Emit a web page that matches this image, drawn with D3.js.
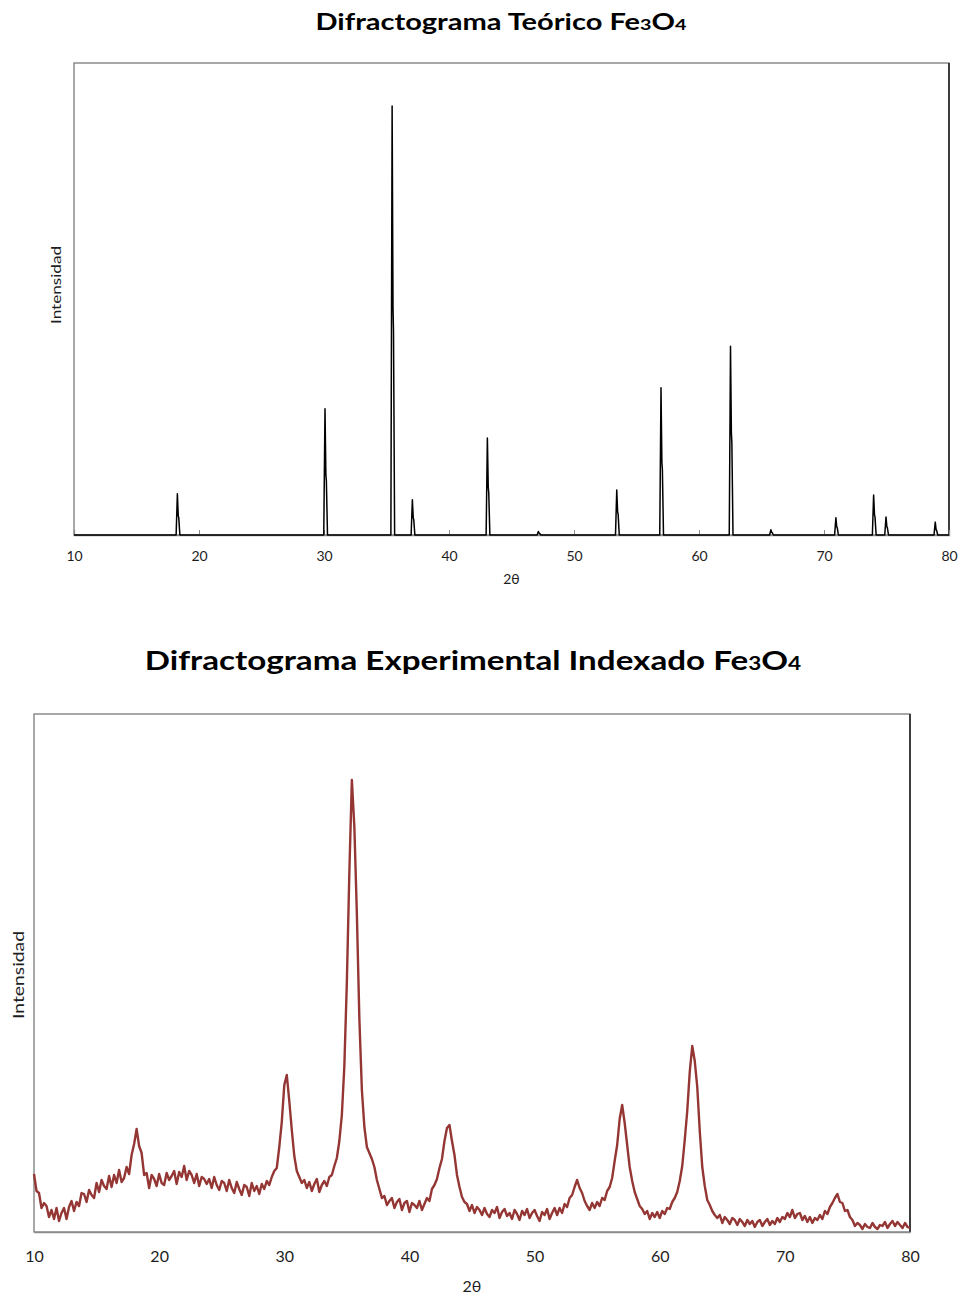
<!DOCTYPE html>
<html>
<head>
<meta charset="utf-8">
<script src="https://cdn.jsdelivr.net/npm/d3@7"></script>
<style>
    body { margin: 0; background: #fff; }
    text { font-family: Lato, "Open Sans", sans-serif; }
</style>
</head>
<body>
<svg id="page" width="961" height="1297"></svg>
<script>

/*  x axis ticks (2 theta)  */
const twoThetaTicks = [10, 20, 30, 40, 50, 60, 70, 80];

/*  theoretical pattern: position, main (Ka1) intensity, shoulder (Ka2) intensity  */
const theoPeakPos      = [18.27, 30.08, 35.45, 37.07, 43.07, 47.15, 53.42, 56.96, 62.52, 65.75, 70.95, 73.97, 74.96, 78.90];
const theoPeakInt      = [9.6,   29.4,  100,   8.2,   22.6,  0.8,   10.5,  34.3,  44.0,  1.2,   4.0,   9.3,   4.2,   3.0];
const theoShoulderInt  = [4.5,   14.0,  53.0,  4.0,   11.0,  0.4,   5.4,   17.0,  23.8,  0.6,   1.9,   4.7,   1.9,   1.2];

/*  experimental pattern, read every 0.2 deg from 10 to 80  */
const expStart = 10;
const expStep = 0.2;
const expIntensity = [
    58, 41, 39, 24, 29, 26, 15, 22, 13, 24,
    11, 19, 24, 13, 25, 31, 21, 30, 26, 39,
    38, 30, 42, 37, 34, 49, 40, 52, 46, 43,
    56, 45, 57, 49, 62, 50, 54, 65, 58, 77,
    88, 103, 86, 79, 57, 59, 44, 57, 53, 46,
    58, 49, 47, 59, 52, 56, 61, 48, 60, 55,
    66, 52, 61, 57, 49, 58, 46, 55, 53, 48,
    53, 44, 55, 47, 42, 51, 49, 41, 52, 44,
    39, 50, 43, 37, 47, 45, 36, 49, 41, 46,
    38, 48, 43, 51, 47, 55, 61, 64, 85, 110,
    147, 157, 131, 102, 76, 61, 55, 49, 52, 44,
    50, 41, 48, 53, 40, 47, 51, 46, 55, 57,
    66, 74, 91, 117, 166, 250, 360, 452, 405, 318,
    213, 142, 105, 85, 79, 73, 65, 52, 43, 34,
    36, 27, 31, 34, 24, 30, 33, 22, 29, 31,
    20, 29, 27, 24, 31, 22, 28, 34, 31, 43,
    47, 53, 64, 73, 91, 104, 107, 91, 77, 57,
    45, 35, 30, 28, 21, 27, 19, 25, 22, 17,
    24, 18, 15, 22, 19, 25, 14, 20, 23, 16,
    19, 13, 22, 18, 12, 21, 17, 23, 14, 19,
    22, 16, 11, 20, 17, 23, 13, 19, 24, 17,
    24, 19, 28, 25, 34, 37, 45, 52, 44, 39,
    31, 26, 22, 29, 24, 30, 26, 34, 32, 41,
    45, 54, 71, 87, 113, 127, 109, 87, 65, 51,
    40, 33, 26, 23, 18, 21, 13, 19, 15, 20,
    14, 21, 18, 24, 23, 30, 34, 40, 51, 66,
    92, 121, 160, 186, 171, 145, 101, 65, 46, 32,
    27, 21, 17, 14, 17, 9, 15, 12, 8, 14,
    12, 7, 13, 10, 6, 12, 8, 11, 5, 10,
    12, 6, 10, 13, 7, 11, 8, 14, 10, 15,
    13, 19, 15, 22, 14, 18, 19, 12, 16, 10,
    15, 9, 14, 12, 17, 13, 21, 18, 25, 29,
    34, 38, 30, 29, 21, 22, 15, 12, 6, 9,
    7, 3, 8, 5, 4, 9, 5, 3, 7, 6,
    10, 4, 8, 11, 6, 10, 7, 4, 9, 5,
    4
];

function XrdChart() {

    let self = this;

    self.initialize = function(conf) {

        self.svg      = d3.select("#page");
        self.box      = conf.box;
        self.title    = conf.title;
        self.titleY   = conf.titleY;
        self.titleSize = conf.titleSize;
        self.titleWidth = conf.titleWidth;
        self.data     = conf.data;
        self.yMax     = conf.yMax;
        self.color    = conf.color;
        self.lineWidth = conf.lineWidth;
        self.innerTicks = conf.innerTicks || false;
        self.labelSize = conf.labelSize;
        self.tickGap  = conf.tickGap;
        self.yLabel   = conf.yLabel;
        self.xLabelY  = conf.xLabelY;

        self.xScale = d3.scaleLinear()
                        .domain([10, 80])
                        .range([self.box.left, self.box.right]);

        self.yScale = d3.scaleLinear()
                        .domain([0, self.yMax])
                        .range([self.box.bottom, self.box.top]);

        self.render();
    }

    self.render = function() {
        self.renderTitle();
        self.renderFrame();
        self.renderAxes();
        self.renderLine();
    }

    self.renderTitle = function() {

        let cx = self.title.cx;

        let t = self.svg.append("text")
                    .attr("x", cx)
                    .attr("y", self.titleY)
                    .attr("text-anchor", "middle")
                    .attr("font-size", self.titleSize)
                    .attr("font-weight", "bold")
                    .attr("fill", "#000");

        t.append("tspan").text(self.title.text + " Fe");
        t.append("tspan").attr("font-size", self.titleSize * 0.68).text("3");
        t.append("tspan").text("O");
        t.append("tspan").attr("font-size", self.titleSize * 0.68).text("4");

        /*  squeeze to the width of the original (narrow face)  */
        let w = t.node().getBBox().width;
        let sx = self.titleWidth / w;
        t.attr("transform", "translate(" + cx + ",0) scale(" + sx + ",1) translate(" + (-cx) + ",0)");
    }

    self.renderFrame = function() {

        let b = self.box;
        self.svg.append("rect")
            .attr("x", b.left)
            .attr("y", b.top)
            .attr("width", b.right - b.left)
            .attr("height", b.bottom - b.top)
            .attr("fill", "none")
            .attr("stroke", "#7a7a7a")
            .attr("stroke-width", 1.3);

        self.svg.append("line")
            .attr("x1", b.right).attr("x2", b.right)
            .attr("y1", b.top).attr("y2", b.bottom)
            .attr("stroke", "#1a1a1a")
            .attr("stroke-width", 1.5);
    }

    self.renderAxes = function() {

        let xAxis = self.svg.append("g")
                        .attr("class", "x axis")
                        .attr("transform", "translate(0," + self.box.bottom + ")")
                        .call(d3.axisBottom(self.xScale)
                                .tickValues(twoThetaTicks)
                                .tickSize(self.innerTicks ? -5 : 0)
                                .tickPadding(self.tickGap)
                                .tickFormat(d3.format("d")));

        xAxis.select(".domain").attr("stroke", "#8c8c8c").attr("stroke-width", 1.3);
        xAxis.selectAll(".tick line").attr("stroke", "#8c8c8c");
        xAxis.selectAll(".tick text")
            .attr("font-family", "Lato, 'Open Sans', sans-serif")
            .attr("font-size", self.labelSize)
            .attr("fill", "#1e1e1e");

        self.svg.append("text")
            .attr("x", (self.box.left + self.box.right) / 2)
            .attr("y", self.xLabelY)
            .attr("text-anchor", "middle")
            .attr("font-size", self.labelSize)
            .attr("fill", "#1e1e1e")
            .text("2θ");

        self.svg.append("text")
            .attr("transform", "translate(" + self.yLabel.x + "," + self.yLabel.y + ") rotate(-90)")
            .attr("text-anchor", "middle")
            .attr("font-size", self.yLabel.size)
            .attr("textLength", self.yLabel.len)
            .attr("lengthAdjust", "spacingAndGlyphs")
            .attr("fill", "#1e1e1e")
            .text("Intensidad");
    }

    self.renderLine = function() {

        let line = d3.line()
                    .x(function(d) { return self.xScale(d[0]); })
                    .y(function(d) { return self.yScale(d[1]); });

        self.svg.append("path")
            .datum(self.data)
            .attr("fill", "none")
            .attr("stroke", self.color)
            .attr("stroke-width", self.lineWidth)
            .attr("stroke-linejoin", "round")
            .attr("d", line);
    }
}

/*  build the theoretical trace: flat baseline with narrow Ka1/Ka2 spikes  */
let theoData = [[10, 0]];
theoPeakPos.forEach(function(p, i) {
    let h = theoPeakInt[i], s = theoShoulderInt[i];
    theoData.push([p - 0.1, 0], [p, h], [p + 0.07, s], [p + 0.11, s * 0.9], [p + 0.2, 0]);
});
theoData.push([80, 0]);

let expData = expIntensity.map(function(v, i) {
    return [expStart + i * expStep, v];
});

let theoChart = new XrdChart();
theoChart.initialize({
    box: {left: 74, right: 949, top: 63, bottom: 535},
    title: {text: "Difractograma Teórico", cx: 501},
    titleY: 30,
    titleSize: 23,
    titleWidth: 371,
    data: theoData,
    yMax: 110,
    color: "#000",
    lineWidth: 1.5,
    innerTicks: true,
    labelSize: 14,
    tickGap: 16,
    yLabel: {x: 61, y: 285, size: 14, len: 78},
    xLabelY: 584
});

let expChart = new XrdChart();
expChart.initialize({
    box: {left: 34, right: 910, top: 714, bottom: 1232},
    title: {text: "Difractograma Experimental Indexado", cx: 473},
    titleY: 670,
    titleSize: 27,
    titleWidth: 657,
    data: expData,
    yMax: 518,
    color: "#943634",
    lineWidth: 2.4,
    innerTicks: false,
    labelSize: 16,
    tickGap: 19,
    yLabel: {x: 24, y: 975, size: 16, len: 88},
    xLabelY: 1292
});

</script>
</body>
</html>
